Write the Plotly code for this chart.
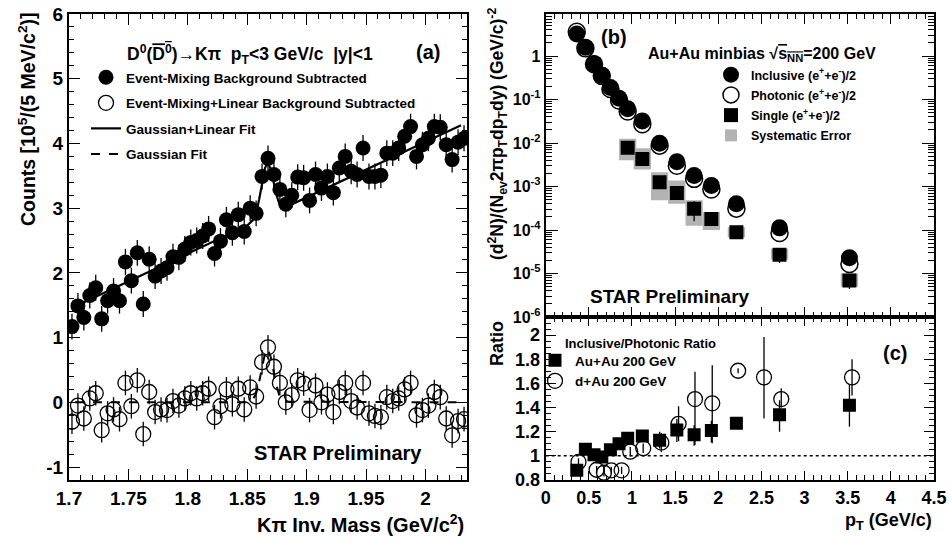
import plotly.graph_objects as go

# ---------------- Panel (a): D0 -> K pi invariant mass ----------------
MASS = [1.7025, 1.7075, 1.7125, 1.7175, 1.7225, 1.7275, 1.7325, 1.7375, 1.7425, 1.7475,
        1.7525, 1.7575, 1.7625, 1.7675, 1.7725, 1.7775, 1.7825, 1.7875, 1.7925, 1.7975,
        1.8025, 1.8075, 1.8125, 1.8175, 1.8225, 1.8275, 1.8325, 1.8375, 1.8425, 1.8475,
        1.8525, 1.8575, 1.8625, 1.8675, 1.8725, 1.8775, 1.8825, 1.8875, 1.8925, 1.8975,
        1.9025, 1.9075, 1.9125, 1.9175, 1.9225, 1.9275, 1.9325, 1.9375, 1.9425, 1.9475,
        1.9525, 1.9575, 1.9625, 1.9675, 1.9725, 1.9775, 1.9825, 1.9875, 1.9925, 1.9975,
        2.0025, 2.0075, 2.0125, 2.0175, 2.0225, 2.0275, 2.0325]
EM_SUB = [1.17, 1.49, 1.31, 1.65, 1.77, 1.29, 1.57, 1.72, 1.57, 2.17,
          1.88, 2.31, 1.52, 2.21, 1.95, 2.03, 2.08, 2.25, 2.24, 2.37,
          2.47, 2.50, 2.57, 2.68, 2.30, 2.49, 2.82, 2.62, 2.90, 2.64,
          3.00, 2.92, 3.49, 3.77, 3.52, 3.29, 3.06, 3.20, 3.48, 3.47,
          3.12, 3.52, 3.31, 3.49, 3.24, 3.62, 3.80, 3.57, 3.52, 3.93,
          3.49, 3.49, 3.51, 3.85, 3.85, 3.93, 4.11, 4.26, 3.80, 3.98,
          4.08, 4.26, 4.25, 3.98, 3.75, 4.02, 4.08]
EM_LIN_SUB = [-0.30, -0.05, -0.25, 0.06, 0.14, -0.43, -0.17, -0.11, -0.26, 0.30,
              -0.06, 0.34, -0.49, 0.16, -0.15, -0.11, -0.12, 0.02, -0.05, 0.06,
              0.14, 0.06, 0.14, 0.21, -0.23, -0.06, 0.20, -0.03, 0.21, -0.11,
              0.23, 0.09, 0.62, 0.85, 0.55, 0.30, 0.00, 0.11, 0.34, 0.29,
              -0.12, 0.26, 0.00, 0.12, -0.15, 0.16, 0.30, 0.02, -0.08, 0.30,
              -0.17, -0.21, -0.23, 0.08, 0.02, 0.06, 0.20, 0.30, -0.20, -0.12,
              -0.05, 0.16, 0.08, -0.25, -0.51, -0.29, -0.26]
EM_SUB_ERR = 0.20
EM_LIN_SUB_ERR = 0.19
FIT_MASS = [1.705, 1.85, 1.855, 1.8575, 1.86, 1.8625, 1.865, 1.867, 1.8695, 1.872,
            1.8745, 1.877, 1.8795, 1.883, 2.03]
FIT_GAUSS_LIN = [1.48, 2.73, 2.82, 2.93, 3.13, 3.39, 3.62, 3.70, 3.62, 3.42,
                 3.21, 3.07, 3.02, 3.02, 4.28]
FIT_GAUSS = [0.0, 0.0, 0.05, 0.14, 0.31, 0.55, 0.76, 0.82, 0.72, 0.50,
             0.27, 0.11, 0.04, 0.01, 0.0]
A_XTICKS = [1.7, 1.75, 1.8, 1.85, 1.9, 1.95, 2.0]
A_XTICKTEXT = ["1.7", "1.75", "1.8", "1.85", "1.9", "1.95", "2"]
A_YTICKS = [-1, 0, 1, 2, 3, 4, 5, 6]
A_YTICKTEXT = ["-1", "0", "1", "2", "3", "4", "5", "6"]

# ---------------- Panel (b): electron spectra ----------------
PT = [0.36, 0.46, 0.56, 0.65, 0.75, 0.85, 0.95, 1.12, 1.32, 1.52, 1.72, 1.92, 2.21, 2.71, 3.52]
INCLUSIVE = [3.2, 1.6, 0.66, 0.36, 0.19, 0.107, 0.061, 0.032, 0.0099, 0.0037,
             0.0018, 0.00105, 0.0004, 0.000112, 2.3e-5]
PHOTONIC = [3.6, 1.5, 0.65, 0.35, 0.175, 0.095, 0.053, 0.027, 0.0087, 0.0030,
            0.0015, 0.00085, 0.00031, 8.5e-5, 1.65e-5]
SINGLE_PT = [0.95, 1.12, 1.32, 1.52, 1.72, 1.92, 2.21, 2.71, 3.52]
SINGLE = [0.0078, 0.0043, 0.00126, 0.00071, 0.00031, 0.00018, 8.9e-5, 2.7e-5, 6.9e-6]
SINGLE_ERR = [0.0008, 0.0005, 0.0002, 0.0001, 0.00015, 0.00004, 0.00001, 0.0000095, 0.0000025]
SYST_LO = [0.0040, 0.00245, 0.00048, 0.00040, 0.000126, 0.00010, 6.8e-5, 2.1e-5, 5.0e-6]
SYST_HI = [0.0126, 0.0076, 0.00214, 0.00138, 0.00048, 0.00026, 0.000115, 3.7e-5, 1.0e-5]
SYST_WIDTH = 0.20
B_YTICKS = [1e-6, 1e-5, 1e-4, 1e-3, 1e-2, 1e-1, 1]
B_YTICKTEXT = ["10<sup>-6</sup>", "10<sup>-5</sup>", "10<sup>-4</sup>", "10<sup>-3</sup>",
               "10<sup>-2</sup>", "10<sup>-1</sup>", "1"]

# ---------------- Panel (c): inclusive / photonic ratio ----------------
AUAU_RATIO = [0.88, 1.055, 1.01, 0.99, 1.05, 1.10, 1.146, 1.165, 1.13, 1.215,
              1.174, 1.21, 1.27, 1.34, 1.42]
AUAU_ERR_UP = [0.02, 0.02, 0.02, 0.02, 0.02, 0.03, 0.03, 0.03, 0.07, 0.09, 0.08, 0.08, 0.03, 0.12, 0.17]
AUAU_ERR_DN = [0.02, 0.02, 0.02, 0.02, 0.02, 0.03, 0.03, 0.03, 0.07, 0.10, 0.09, 0.10, 0.03, 0.14, 0.18]
DAU_PT = [0.38, 0.59, 0.675, 0.76, 0.88, 0.98, 1.13, 1.34, 1.54, 1.73, 1.93, 2.23, 2.53, 2.73, 3.55]
DAU_RATIO = [0.95, 0.885, 0.86, 0.88, 0.88, 1.035, 1.063, 1.11, 1.265, 1.47,
             1.435, 1.705, 1.65, 1.47, 1.65]
DAU_ERR_UP = [0.03, 0.03, 0.03, 0.03, 0.03, 0.04, 0.04, 0.08, 0.145, 0.226, 0.315, 0.02, 0.335, 0.09, 0.15]
DAU_ERR_DN = [0.03, 0.03, 0.03, 0.03, 0.03, 0.04, 0.04, 0.08, 0.145, 0.38, 0.33, 0.02, 0.34, 0.07, 0.15]
RATIO_REF = 1.0
PT_TICKS = [0, 0.5, 1, 1.5, 2, 2.5, 3, 3.5, 4, 4.5]
PT_TICKTEXT = ["0", "0.5", "1", "1.5", "2", "2.5", "3", "3.5", "4", "4.5"]
C_YTICKS = [0.8, 1.0, 1.2, 1.4, 1.6, 1.8, 2.0]
C_YTICKTEXT = ["0.8", "1", "1.2", "1.4", "1.6", "1.8", "2"]

# ---------------- layout helpers ----------------
W, H = 951, 538
FONT = "Liberation Sans"


def px(x):
    return x / W


def py(y):
    return 1 - y / H


fig = go.Figure()

# ---- Panel (a) traces ----
fig.add_trace(go.Scatter(
    x=MASS, y=EM_SUB, mode="markers", xaxis="x", yaxis="y",
    marker=dict(symbol="circle", size=15, color="black"),
    error_y=dict(type="constant", value=EM_SUB_ERR, color="black", thickness=1.3, width=0),
    name="Event-Mixing Background Subtracted", legend="legend", legendgroup="a1"))
fig.add_trace(go.Scatter(
    x=MASS, y=EM_LIN_SUB, mode="markers", xaxis="x", yaxis="y",
    marker=dict(symbol="circle-open", size=15, color="black", line=dict(width=1.3, color="black")),
    error_y=dict(type="constant", value=EM_LIN_SUB_ERR, color="black", thickness=1.3, width=0),
    name="Event-Mixing+Linear Background Subtracted", legend="legend", legendgroup="a2"))
fig.add_trace(go.Scatter(
    x=FIT_MASS, y=FIT_GAUSS_LIN, mode="lines", xaxis="x", yaxis="y",
    line=dict(color="black", width=2.2),
    name="Gaussian+Linear Fit", legend="legend", legendgroup="a3"))
fig.add_trace(go.Scatter(
    x=FIT_MASS, y=FIT_GAUSS, mode="lines", xaxis="x", yaxis="y",
    line=dict(color="black", width=2, dash="dash"),
    name="Gaussian Fit", legend="legend", legendgroup="a4"))

# ---- Panel (b) traces ----
fig.add_trace(go.Bar(
    x=SINGLE_PT, y=[h - l for l, h in zip(SYST_LO, SYST_HI)], base=SYST_LO, width=SYST_WIDTH,
    xaxis="x2", yaxis="y2", marker=dict(color="#b3b3b3", line=dict(width=0)),
    name="Systematic Error", legend="legend2", legendrank=4, legendgroup="b4"))
fig.add_trace(go.Scatter(
    x=SINGLE_PT, y=SINGLE, mode="markers", xaxis="x2", yaxis="y2",
    marker=dict(symbol="square", size=14, color="black"),
    error_y=dict(type="data", array=SINGLE_ERR, color="black", thickness=1.3, width=0),
    name="Single (e<sup>+</sup>+e<sup>-</sup>)/2", legend="legend2", legendrank=3, legendgroup="b3"))
fig.add_trace(go.Scatter(
    x=PT, y=PHOTONIC, mode="markers", xaxis="x2", yaxis="y2",
    marker=dict(symbol="circle", size=17, color="white", line=dict(width=1.5, color="black")),
    name="Photonic (e<sup>+</sup>+e<sup>-</sup>)/2", legend="legend2", legendrank=2, legendgroup="b2"))
fig.add_trace(go.Scatter(
    x=PT, y=INCLUSIVE, mode="markers", xaxis="x2", yaxis="y2",
    marker=dict(symbol="circle", size=17, color="black"),
    name="Inclusive (e<sup>+</sup>+e<sup>-</sup>)/2", legend="legend2", legendrank=1, legendgroup="b1"))

# ---- Panel (c) traces ----
fig.add_trace(go.Scatter(
    x=PT, y=AUAU_RATIO, mode="markers", xaxis="x3", yaxis="y3",
    marker=dict(symbol="square", size=13, color="black"),
    error_y=dict(type="data", array=AUAU_ERR_UP, arrayminus=AUAU_ERR_DN, color="black", thickness=1.3, width=0),
    name="Au+Au 200 GeV", legend="legend3", legendgroup="c1"))
fig.add_trace(go.Scatter(
    x=DAU_PT, y=DAU_RATIO, mode="markers", xaxis="x3", yaxis="y3",
    marker=dict(symbol="circle-open", size=15, color="black", line=dict(width=1.3, color="black")),
    error_y=dict(type="data", array=DAU_ERR_UP, arrayminus=DAU_ERR_DN, color="black", thickness=1.3, width=0),
    name="d+Au 200 GeV", legend="legend3", legendgroup="c2"))


def axis_style(**kw):
    d = dict(showline=True, linecolor="black", linewidth=2, mirror="allticks",
             ticks="inside", ticklen=11, tickwidth=1.3, tickcolor="black", automargin=False,
             showgrid=False, zeroline=False, tickfont=dict(size=19, color="black"),
             minor=dict(ticks="inside", ticklen=5, tickwidth=1.1, tickcolor="black", showgrid=False))
    mk = kw.pop("minor", None)
    if mk:
        d["minor"].update(mk)
    d.update(kw)
    return d


minor_log = [m * 10 ** e for e in range(-6, 1) for m in range(2, 10)]

fig.update_layout(
    width=W, height=H, margin=dict(l=0, r=0, t=0, b=0, autoexpand=False),
    paper_bgcolor="white", plot_bgcolor="white", barmode="overlay",
    font=dict(family=FONT, size=13, color="black", weight="bold"),
    xaxis=axis_style(domain=[px(69), px(467)], range=[1.7, 2.035], anchor="y",
                     tickmode="array", tickvals=A_XTICKS, ticktext=A_XTICKTEXT,
                     minor=dict(dtick=0.01, tick0=1.7)),
    yaxis=axis_style(domain=[py(480), py(14)], range=[-1.2, 6], anchor="x",
                     tickmode="array", tickvals=A_YTICKS, ticktext=A_YTICKTEXT,
                     minor=dict(dtick=0.2, tick0=0)),
    xaxis2=axis_style(domain=[px(545.7), px(934)], range=[0, 4.5], anchor="y2",
                      tickmode="array", tickvals=PT_TICKS, showticklabels=False, ticklen=10,
                      minor=dict(dtick=0.1, tick0=0)),
    yaxis2=axis_style(domain=[py(317), py(14)], type="log", range=[-6, 0.966], anchor="x2",
                      tickmode="array", tickvals=B_YTICKS, ticktext=B_YTICKTEXT,
                      tickfont=dict(size=16, color="black"), ticklen=12,
                      minor=dict(tickmode="array", tickvals=minor_log, ticklen=6)),
    xaxis3=axis_style(domain=[px(545.7), px(934)], range=[0, 4.5], anchor="y3",
                      tickmode="array", tickvals=PT_TICKS, ticktext=PT_TICKTEXT, ticklen=9,
                      tickfont=dict(size=18, color="black"),
                      minor=dict(dtick=0.1, tick0=0)),
    yaxis3=axis_style(domain=[py(480), py(317)], range=[0.8, 2.15], anchor="x3",
                      tickmode="array", tickvals=C_YTICKS, ticktext=C_YTICKTEXT, ticklen=10,
                      tickfont=dict(size=18, color="black"),
                      minor=dict(dtick=0.05, tick0=0.8, ticklen=5)),
    legend=dict(x=px(86), y=py(62), xanchor="left", yanchor="top", bgcolor="rgba(0,0,0,0)",
                font=dict(size=13.5), tracegroupgap=5, itemsizing="trace"),
    legend2=dict(x=px(711), y=py(60), xanchor="left", yanchor="top", bgcolor="rgba(0,0,0,0)",
                 font=dict(size=12.5), tracegroupgap=1, itemsizing="trace"),
    legend3=dict(x=px(535), y=py(345), xanchor="left", yanchor="top", bgcolor="rgba(0,0,0,0)",
                 font=dict(size=13.5), tracegroupgap=0, itemsizing="trace"),
    showlegend=True,
)

fig.add_shape(type="line", xref="x3 domain", x0=0, x1=1, yref="y3", y0=RATIO_REF, y1=RATIO_REF,
              line=dict(color="black", width=1.5, dash="dot"), layer="below")


def note(text, x, y, size, angle=0, xanchor="center", yanchor="middle"):
    fig.add_annotation(text=text, xref="paper", yref="paper", x=px(x), y=py(y),
                       showarrow=False, textangle=angle, xanchor=xanchor, yanchor=yanchor,
                       font=dict(size=size, color="black"))


# Panel (a) text
note("D<sup>0</sup>(<span style='text-decoration:overline'>D<sup>0</sup></span>)→Kπ  p<sub>T</sub><3 GeV/c  |y|<1",
     250, 55, 17.5)
note("(a)", 428, 52, 20)
note("STAR Preliminary", 338, 453, 20)
note("Counts [10<sup>5</sup>/(5 MeV/c<sup>2</sup>)]", 27, 119, 19.5, angle=-90)
note("Kπ Inv. Mass (GeV/c<sup>2</sup>)", 466, 523, 20, xanchor="right")

# Panel (b) text
note("(b)", 614, 37, 20)
note("Au+Au minbias √<span style='text-decoration:overline'>s<sub>NN</sub></span>=200 GeV", 762, 55, 16)
note("STAR Preliminary", 670, 296, 19)
note("(d<sup>2</sup>N)/(N<sub>ev</sub>2πp<sub>T</sub>dp<sub>T</sub>dy) (GeV/c)<sup>-2</sup>",
     497, 134, 17.5, angle=-90)

# Panel (c) text
note("Inclusive/Photonic Ratio", 563, 343, 13, xanchor="left")
note("(c)", 895, 353, 20)
note("Ratio", 497, 344, 18, angle=-90)
note("p<sub>T</sub> (GeV/c)", 934, 521, 18, xanchor="right")

fig.write_html("out.html", config={"displayModeBar": False},
               post_script="document.body.style.margin='0px';document.body.style.overflow='hidden';")
